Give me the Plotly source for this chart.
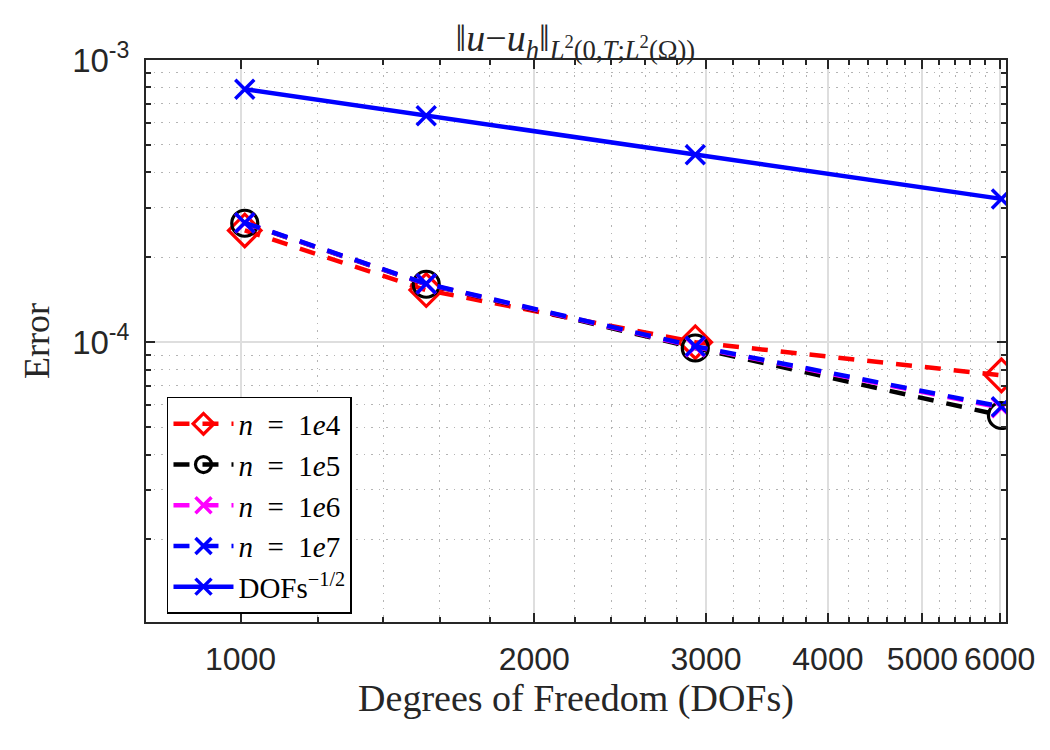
import math
import plotly.graph_objects as go

# ---- data ----
dofs = [1010, 1550, 2925, 6025]
err_n1e4 = [2.49e-4, 1.53e-4, 1.00e-4, 7.63e-5]
err_n1e5 = [2.64e-4, 1.605e-4, 9.54e-5, 5.50e-5]
err_n1e6 = [2.645e-4, 1.608e-4, 9.62e-5, 5.86e-5]
err_n1e7 = [2.65e-4, 1.612e-4, 9.67e-5, 5.91e-5]
ref_rate = [7.88e-4, 6.35e-4, 4.62e-4, 3.22e-4]

x_tick_vals = [1000, 2000, 3000, 4000, 5000, 6000]
x_tick_text = ["1000", "2000", "3000", "4000", "5000", "6000"]
x_minor_vals = [1200, 1400, 1600, 1800, 2200, 2400, 2600, 2800,
                3200, 3400, 3600, 3800, 4200, 4400, 4600, 4800,
                5200, 5400, 5600, 5800]
y_tick_vals = [1e-4, 1e-3]
y_tick_text = ["10<sup>-4</sup>", "10<sup>-3</sup>"]
y_minor_vals = [2e-5, 3e-5, 4e-5, 5e-5, 6e-5, 7e-5, 8e-5, 9e-5,
                2e-4, 3e-4, 4e-4, 5e-4, 6e-4, 7e-4, 8e-4, 9e-4]

x_range = [800, 6090]
y_range = [1.02e-5, 1e-3]

SERIF = "Liberation Serif, Times New Roman, serif"
SANS = "Liberation Sans, Arial, Helvetica, sans-serif"
AX = "#262626"
SP = "\u2002"

fig = go.Figure()

series = [
    (err_n1e4, f"<i>n</i>{SP}={SP}1<i>e</i>4", "#ff0000", "diamond-open", 25, "16px,13px"),
    (err_n1e5, f"<i>n</i>{SP}={SP}1<i>e</i>5", "#000000", "circle-open", 26, "16px,13px"),
    (err_n1e6, f"<i>n</i>{SP}={SP}1<i>e</i>6", "#ff00ff", "x-thin-open", 19, "16px,13px"),
    (err_n1e7, f"<i>n</i>{SP}={SP}1<i>e</i>7", "#0000ff", "x-thin-open", 19, "16px,13px"),
    (ref_rate, "DOFs<sup>\u22121/2</sup>", "#0000ff", "x-thin-open", 19, "solid"),
]

for i, (vals, name, col, sym, size, dash) in enumerate(series):
    fig.add_trace(go.Scatter(
        x=dofs, y=vals, name=name, mode="lines+markers",
        legendgroup=f"g{i}",
        line=dict(color=col, width=4.5, dash=dash),
        marker=dict(symbol=sym, size=size, color=col,
                    line=dict(color=col, width=3.5 if "x" in sym else 3.2)),
    ))

fig.update_layout(
    width=1050, height=750,
    margin=dict(l=146, r=44, t=60, b=128),
    paper_bgcolor="white", plot_bgcolor="white",
    showlegend=True,
    title=dict(
        text="\u2016<i>u</i>\u2212<i>u</i><sub><i>h</i></sub>\u2016<sub><i>L</i><sup>2</sup>(0,<i>T</i>;<i>L</i><sup>2</sup>(\u03a9))</sub>",
        font=dict(family=SERIF, size=38, color=AX),
        x=0.548, xanchor="center", xref="container",
        y=1 - 38 / 750, yanchor="middle", yref="container",
    ),
    legend=dict(
        x=0.0244, y=0.4004, xanchor="left", yanchor="top",
        bgcolor="white", bordercolor="#000000", borderwidth=1.5,
        font=dict(family=SERIF, size=29, color="#000000"),
        itemwidth=60, tracegroupgap=0,
    ),
)

fig.update_xaxes(
    type="log", range=[math.log10(x_range[0]), math.log10(x_range[1])],
    tickmode="array", tickvals=x_tick_vals, ticktext=x_tick_text,
    ticks="inside", ticklen=9, tickwidth=1.5, tickcolor=AX,
    showline=True, linecolor=AX, linewidth=2, mirror="allticks",
    showgrid=True, gridcolor="#dedede", gridwidth=1.5,
    tickfont=dict(family=SANS, size=32, color=AX),
    ticklabelstandoff=8,
    minor=dict(tickmode="array", tickvals=x_minor_vals, ticks="inside",
               ticklen=5, tickcolor=AX, showgrid=True,
               gridcolor="#b4b4b4", griddash="1.5px,6px", gridwidth=1),
    title=dict(text="Degrees of Freedom (DOFs)",
               font=dict(family=SERIF, size=38, color=AX), standoff=4),
    zeroline=False,
)
fig.update_yaxes(
    type="log", range=[math.log10(y_range[0]), math.log10(y_range[1])],
    tickmode="array", tickvals=y_tick_vals, ticktext=y_tick_text,
    ticks="inside", ticklen=9, tickwidth=1.5, tickcolor=AX,
    showline=True, linecolor=AX, linewidth=2, mirror="allticks",
    showgrid=True, gridcolor="#dedede", gridwidth=1.5,
    tickfont=dict(family=SANS, size=33, color=AX),
    ticklabelstandoff=8,
    minor=dict(tickmode="array", tickvals=y_minor_vals, ticks="inside",
               ticklen=5, tickcolor=AX, showgrid=True,
               gridcolor="#b4b4b4", griddash="1.5px,6px", gridwidth=1),
    title=dict(text="Error", font=dict(family=SERIF, size=36, color=AX), standoff=12),
    zeroline=False,
)

fig.write_html("out.html")
